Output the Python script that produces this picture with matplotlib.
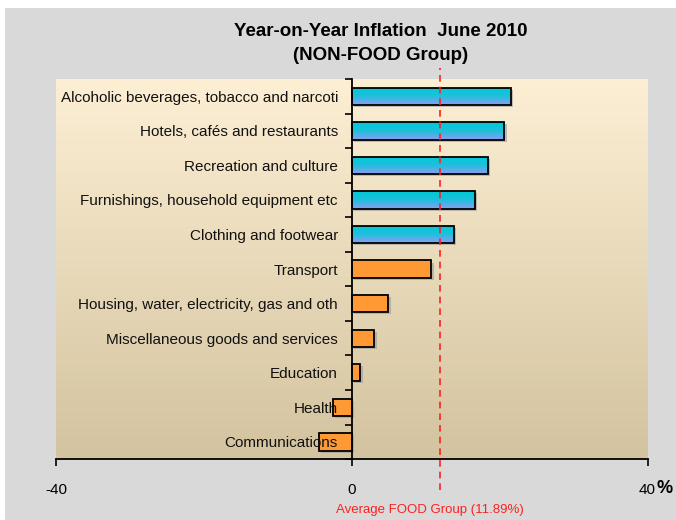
import numpy as np
import matplotlib
matplotlib.use('Agg')
import matplotlib.pyplot as plt
from matplotlib.patches import Rectangle
from matplotlib.colors import LinearSegmentedColormap

plt.rcParams['font.family'] = ['Liberation Sans Narrow', 'Liberation Sans', 'DejaVu Sans']

categories = ['Alcoholic beverages, tobacco and narcoti',
              'Hotels, cafés and restaurants',
              'Recreation and culture',
              'Furnishings, household equipment etc',
              'Clothing and footwear',
              'Transport',
              'Housing, water, electricity, gas and oth',
              'Miscellaneous goods and services',
              'Education',
              'Health',
              'Communications']
values = [21.5, 20.6, 18.4, 16.6, 13.8, 10.7, 4.9, 3.0, 1.1, -2.6, -4.5]
above_avg = [True, True, True, True, True, False, False, False, False, False, False]
food_avg = 11.89
xticks = [-40, 0, 40]

fig = plt.figure(figsize=(6.76, 5.2), dpi=100, facecolor='white')
fig.patches.append(Rectangle((0.008, 0), 0.992, 0.984, transform=fig.transFigure,
                             facecolor='#d9d9d9', edgecolor='none', zorder=-10))

ax = fig.add_axes([0.083, 0.117, 0.875, 0.731])
ax.set_facecolor('none')

n = len(categories)
ypos = np.arange(n)
ax.set_xlim(-40, 40)
ax.set_ylim(n - 0.5, -0.5)

# plot area gradient
bg = LinearSegmentedColormap.from_list('bg', ['#fdefd4', '#d3c39f'])
ax.imshow(np.linspace(0, 1, 100).reshape(-1, 1), cmap=bg, aspect='auto',
          extent=[-40, 40, n - 0.5, -0.5], zorder=0)

blue = LinearSegmentedColormap.from_list('bl', ['#00c9d6', '#1ec0dc', '#8c9cf2'])
h = 0.5
for y, v, hi in zip(ypos, values, above_avg):
    # little shadow
    ax.add_patch(Rectangle((min(0, v) + 0.35, y - h / 2 + 0.06), abs(v), h,
                           facecolor='#9a9a9a', edgecolor='none', alpha=0.6, zorder=1.5))
    if hi:
        ax.barh(y, v, height=h, facecolor='none', edgecolor='black',
                linewidth=1.3, zorder=3)
        im = ax.imshow(np.linspace(0, 1, 50).reshape(-1, 1), cmap=blue, aspect='auto',
                       extent=[0, v, y + h / 2, y - h / 2], zorder=2)
        im.set_clip_path(Rectangle((0, y - h / 2), v, h, transform=ax.transData))
    else:
        ax.barh(y, v, height=h, color='#ff9933', edgecolor='black', linewidth=1.3, zorder=2)

# restore limits after imshow
ax.set_xlim(-40, 40)
ax.set_ylim(n - 0.5, -0.5)

for s in ['top', 'right']:
    ax.spines[s].set_visible(False)
ax.spines['left'].set_position(('data', 0))
ax.spines['left'].set_zorder(4)
ax.spines['bottom'].set_linewidth(1.3)
ax.spines['left'].set_linewidth(1.3)

ax.set_yticks(np.arange(n + 1) - 0.5)
ax.set_yticklabels([])
ax.set_yticks(ypos, minor=True)
ax.set_yticklabels(categories, minor=True, fontsize=11, color='#111111')
ax.tick_params(axis='y', which='major', direction='out', length=5, width=1.2)
ax.tick_params(axis='y', which='minor', length=0, pad=10)
ax.yaxis.set_zorder(5)  # labels over the negative bars, like the original

ax.set_xticks(xticks)
ax.set_xticklabels([str(t) for t in xticks], fontsize=11)
ax.tick_params(axis='x', direction='out', length=5, width=1.2, pad=12)

ax.text(1.015, -0.077, '%', transform=ax.transAxes, fontsize=13, fontweight='bold',
        ha='left', va='center')

# average FOOD group line
ax.plot([food_avg, food_avg], [-0.08, 1.03], transform=ax.get_xaxis_transform(),
        color='#ff2020', linestyle=(0, (4, 3)), linewidth=1.2, clip_on=False, zorder=6)
ax.text(food_avg - 1.3, -0.133, 'Average FOOD Group (11.89%)', transform=ax.get_xaxis_transform(),
        color='#ff2020', fontsize=9.5, ha='center', va='center')

fig.text(0.563, 0.916, 'Year-on-Year Inflation  June 2010\n(NON-FOOD Group)',
         ha='center', va='center', fontsize=13.5, fontweight='bold', linespacing=1.5)

fig.savefig('out.png', dpi=100)
